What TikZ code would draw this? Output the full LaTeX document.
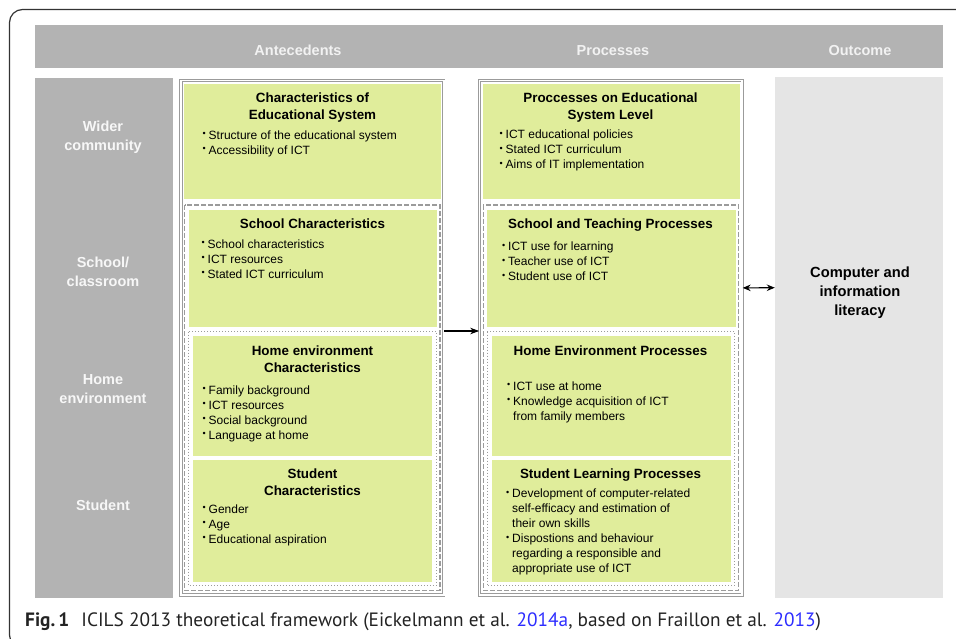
\documentclass[tikz,border=0pt]{standalone}
\usepackage{fontspec}
\setmainfont{Liberation Sans}
\newfontfamily\capfont{PT Sans}
\usetikzlibrary{arrows.meta}
\definecolor{grn}{RGB}{224,237,155}
\definecolor{hdr}{RGB}{179,179,179}
\definecolor{outcfill}{RGB}{229,229,229}
\definecolor{frm}{RGB}{155,155,155}
\definecolor{lnk}{RGB}{45,45,255}
\definecolor{captxt}{RGB}{35,35,35}
\newcommand\bul{\makebox[6pt][l]{\raisebox{2.6pt}{\fontsize{9}{9}\selectfont\textbullet}}}
\newcommand\ind{\makebox[6pt][l]{}}
\begin{document}
\begin{tikzpicture}[x=1pt,y=-1pt,
  dblbox/.style={draw=frm, double=white, line width=0.9pt, double distance=1.6pt, fill=white, inner sep=0},
  dashbox/.style={draw=frm, line width=1.1pt, dash pattern=on 5pt off 2pt},
  dotbox/.style={draw=frm, line width=1.1pt, dash pattern=on 1.1pt off 1.9pt},
  ttl/.style={font=\fontsize{13.4}{17}\selectfont\bfseries, align=center, anchor=north, inner sep=0},
  body/.style={font=\fontsize{12}{15}\selectfont, align=left, anchor=north west, inner sep=0, text=black},
  rowlab/.style={font=\fontsize{14.5}{18.5}\selectfont\bfseries, text=white!97!black, align=center, anchor=north, inner sep=0},
  head/.style={font=\fontsize{14.5}{17}\selectfont\bfseries, text=white!95!black, anchor=base, inner sep=0},
  arr/.style={line width=1.1pt, -{Stealth[length=9pt,width=6.5pt]}},
  darr/.style={line width=1.1pt, {Stealth[length=8pt,width=6.5pt]}-{Stealth[length=8pt,width=6.5pt]}}
]
\useasboundingbox (0,0) rectangle (956,639);
\clip (0,0) rectangle (956,639);

% outer frame
\draw[line width=1.2pt, black!80, rounded corners=13pt] (9.5,9.5) rectangle (1000,648);

% header bar
\fill[hdr] (35,25) rectangle (943,68);
\node[head] (hA) at (298,55.3) {Antecedents};
\node[head] (hP) at (613,55.3) {Processes};
\node[head] (hO) at (860,55.3) {Outcome};

% left column
\fill[hdr] (35,78) rectangle (173,598);
\node[rowlab] (r1) at (103,120.8) {Wider\\community};
\node[rowlab] (r2) at (103,256.8) {School/\\classroom};
\node[rowlab] (r3) at (103,374.8) {Home\\environment};
\node[rowlab] (r4) at (103,499.8) {Student};

% outcome
\node[fill=outcfill, inner sep=0, minimum width=168pt, minimum height=520pt] (outc) at (859,337.5) {};
\node[font=\fontsize{14.7}{19}\selectfont\bfseries, align=center, anchor=north, inner sep=0] (outt) at (860,266.6) {Computer and\\information\\literacy};

% antecedents / processes outer boxes
\node[dblbox, minimum width=262.6pt, minimum height=514.2pt] (ant) at (312.4,337.7) {};
\node[dblbox, minimum width=262.6pt, minimum height=514.2pt] (proc) at (610.9,337.7) {};

% column internals
\foreach \dx in {0,298.5}{
  \begin{scope}[xshift=\dx]
    \fill[grn] (184,84) rectangle (441,199);
    \draw[dashbox] (184.8,205) rectangle (440,590.5);
    \fill[grn] (188.5,210) rectangle (437,327);
    \draw[dotbox] (188.8,331.5) rectangle (436.2,585.5);
    \fill[grn] (193,336) rectangle (432,456);
    \fill[grn] (193,460) rectangle (432,582);
  \end{scope}
}

% antecedents texts
\node[ttl] (t1) at (312.5,92.3) {Characteristics of\\Educational System};
\node[body] (b1) at (202.5,130.3) {\bul Structure of the educational system\\\bul Accessibility of ICT};
\node[ttl] (t2) at (312.5,218.4) {School Characteristics};
\node[body] (b2) at (201.5,239.5) {\bul School characteristics\\\bul ICT resources\\\bul Stated ICT curriculum};
\node[ttl] (t3) at (312.5,346) {Home environment\\Characteristics};
\node[body] (b3) at (202.5,385.5) {\bul Family background\\\bul ICT resources\\\bul Social background\\\bul Language at home};
\node[ttl] (t4) at (312.5,468.6) {Student\\Characteristics};
\node[body] (b4) at (202.5,504.5) {\bul Gender\\\bul Age\\\bul Educational aspiration};

% processes texts
\node[ttl] (p1) at (610.5,92.5) {Proccesses on Educational\\System Level};
\node[body] (q1) at (499.5,129.8) {\bul ICT educational policies\\\bul Stated ICT curriculum\\\bul Aims of IT implementation};
\node[ttl] (p2) at (610.5,218.5) {School and Teaching Processes};
\node[body] (q2) at (502,242) {\bul ICT use for learning\\\bul Teacher use of ICT\\\bul Student use of ICT};
\node[ttl] (p3) at (610.5,346) {Home Environment Processes};
\node[body] (q3) at (507,381.2) {\bul ICT use at home\\\bul Knowledge acquisition of ICT\\\ind from family members};
\node[ttl] (p4) at (610.5,468.6) {Student Learning Processes};
\node[body] (q4) at (506,489) {\bul Development of computer-related\\\ind self-efficacy and estimation of\\\ind their own skills\\\bul Dispostions and behaviour\\\ind regarding a responsible and\\\ind appropriate use of ICT};

% connectors
\draw[arr] ([yshift=6.7pt]ant.east) -- ([yshift=6.7pt]proc.west);
\draw[darr] ([yshift=49.8pt]proc.east) -- ([yshift=49.8pt]outc.west);

% caption
\node[anchor=base west, inner sep=0, font=\capfont\fontsize{19.3}{21}\selectfont, text=captxt] (cap) at (25,626)
  {\textbf{Fig.\,1}\hspace{12pt}ICILS 2013 theoretical framework (Eickelmann et al. \textcolor{lnk}{2014a}, based on Fraillon et al. \textcolor{lnk}{2013})};
\end{tikzpicture}
\end{document}
